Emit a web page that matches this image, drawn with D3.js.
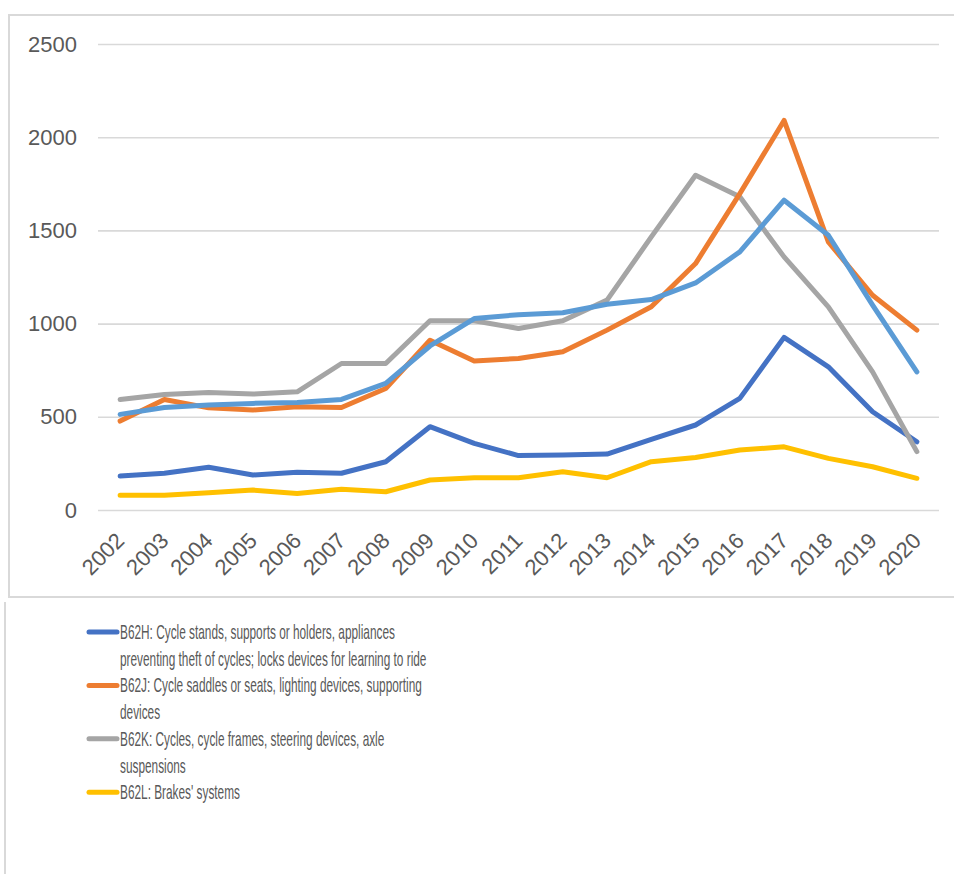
<!DOCTYPE html>
<html>
<head>
<meta charset="utf-8">
<script src="https://cdn.jsdelivr.net/npm/d3@7"></script>
<style>
  html, body { margin: 0; padding: 0; background: #ffffff; }
  svg { display: block; }
  text { font-family: "Liberation Sans", Arial, sans-serif; fill: #595959; }
</style>
</head>
<body>
<svg id="chart" width="954" height="874"></svg>
<script>
// Patent counts per year, CPC subclasses B62H–B62L
const years = ["2002","2003","2004","2005","2006","2007","2008","2009","2010","2011",
               "2012","2013","2014","2015","2016","2017","2018","2019","2020"];

const b62hValues = [182,197,229,188,202,197,259,447,357,292,295,300,379,456,599,926,768,527,366];
const b62jValues = [477,593,548,536,554,550,652,911,799,813,849,965,1090,1322,1697,2090,1438,1152,965];
const b62kValues = [593,620,631,622,634,786,786,1015,1015,974,1015,1126,1465,1796,1680,1358,1090,741,313];
const b62lValues = [79,79,93,107,89,111,98,161,173,173,205,173,259,282,322,339,277,232,170];
const b62mValues = [513,550,563,572,577,593,679,880,1027,1048,1058,1104,1129,1218,1385,1662,1474,1099,741];

const yTicks = [0, 500, 1000, 1500, 2000, 2500];

const legendLabels = [
  ["B62H: Cycle stands, supports or holders, appliances",
   "preventing theft of cycles; locks devices for learning to ride"],
  ["B62J: Cycle saddles or seats, lighting devices, supporting",
   "devices"],
  ["B62K: Cycles, cycle frames, steering devices, axle",
   "suspensions"],
  ["B62L: Brakes' systems"]
];

const colors = {
  b62h: "#4472C4",
  b62j: "#ED7D31",
  b62k: "#A5A5A5",
  b62l: "#FFC000",
  b62m: "#5B9BD5"
};

// Drawing order: later series sit on top
const series = [
  { key: "b62h", values: b62hValues },
  { key: "b62l", values: b62lValues },
  { key: "b62k", values: b62kValues },
  { key: "b62j", values: b62jValues },
  { key: "b62m", values: b62mValues }
];
const legendKeys = ["b62h", "b62j", "b62k", "b62l"];

const svg = d3.select("#chart");

// Chart-area and legend-area frames
const frame = svg.append("g").attr("stroke", "#d9d9d9").attr("stroke-width", 2).attr("fill", "none");
frame.append("path").attr("d", "M954,15H9V597H954");
frame.append("path").attr("d", "M5,602V874");

const plot = { left: 98, right: 939, top: 44, bottom: 510 };

const x = d3.scalePoint()
  .domain(years)
  .range([plot.left, plot.right])
  .padding(0.5);

const y = d3.scaleLinear()
  .domain([0, 2500])
  .range([plot.bottom, plot.top]);

// Horizontal gridlines with value labels
const yAxis = svg.append("g")
  .attr("transform", `translate(${plot.left},0)`)
  .call(d3.axisLeft(y).tickValues(yTicks).tickFormat(d3.format("d"))
    .tickSize(-(plot.right - plot.left)).tickPadding(21));
yAxis.select(".domain").remove();
yAxis.selectAll(".tick line").attr("stroke", "#d9d9d9").attr("stroke-width", 1.6);
yAxis.selectAll(".tick text")
  .attr("font-size", 22)
  .attr("fill", "#595959")
  .style("font-family", "'Liberation Sans', Arial, sans-serif");

// Year labels, rotated
const xAxis = svg.append("g")
  .attr("transform", `translate(0,${plot.bottom})`)
  .call(d3.axisBottom(x).tickSize(0).tickPadding(0));
xAxis.select(".domain").remove();
xAxis.selectAll(".tick text")
  .attr("font-size", 22)
  .attr("fill", "#595959")
  .style("font-family", "'Liberation Sans', Arial, sans-serif")
  .attr("text-anchor", "end")
  .attr("dy", null)
  .attr("y", 0)
  .attr("transform", "translate(5,32) rotate(-45)");

// Series lines
const line = d3.line()
  .x((d, i) => x(years[i]))
  .y(d => y(d));

svg.append("g")
  .selectAll("path")
  .data(series)
  .join("path")
  .attr("d", d => line(d.values))
  .attr("fill", "none")
  .attr("stroke", d => colors[d.key])
  .attr("stroke-width", 5)
  .attr("stroke-linejoin", "round")
  .attr("stroke-linecap", "round");

// Legend (condensed text)
const legend = svg.append("g");
const legendX = 120;
const lineGap = 26.7;
let rowY = 632;
legendLabels.forEach((lines, i) => {
  const g = legend.append("g");
  g.append("line")
    .attr("x1", 89).attr("x2", 117)
    .attr("y1", rowY).attr("y2", rowY)
    .attr("stroke", colors[legendKeys[i]])
    .attr("stroke-width", 5)
    .attr("stroke-linecap", "round");
  lines.forEach((t, j) => {
    g.append("text")
      .attr("transform", `translate(${legendX},${rowY + 7 + j * lineGap}) scale(0.592,1)`)
      .attr("font-size", 20)
      .attr("fill", "#595959")
      .text(t);
  });
  rowY += lines.length * lineGap;
});
</script>
</body>
</html>
